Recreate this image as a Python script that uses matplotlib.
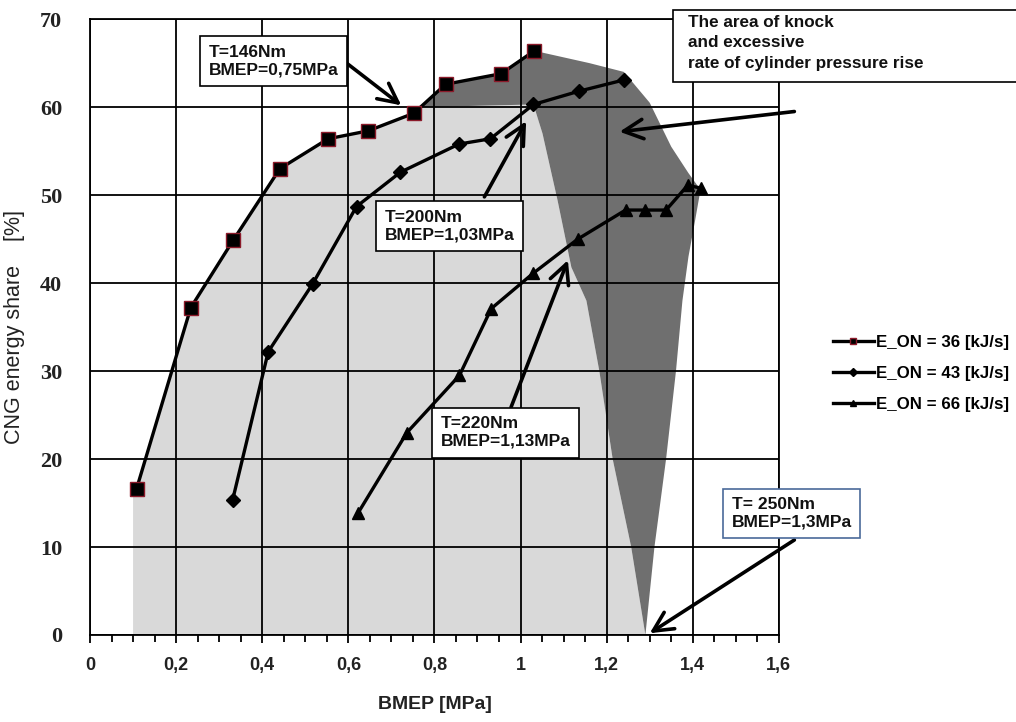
import matplotlib
matplotlib.use("Agg")
import matplotlib.pyplot as plt
from matplotlib.patches import Rectangle
from matplotlib.ticker import MultipleLocator

# measured points (BMEP [MPa], CNG share [%])
bmep_36 = [0.108, 0.234, 0.333, 0.441, 0.553, 0.646, 0.752, 0.826, 0.955, 1.032]
cng_36 = [16.6, 37.2, 44.9, 53.0, 56.4, 57.3, 59.3, 62.6, 63.8, 66.4]

bmep_43 = [0.331, 0.414, 0.517, 0.619, 0.721, 0.857, 0.930, 1.030, 1.135, 1.241]
cng_43 = [15.3, 32.2, 39.9, 48.7, 52.6, 55.8, 56.4, 60.3, 61.8, 63.1]

bmep_66 = [0.623, 0.736, 0.858, 0.932, 1.029, 1.133, 1.244, 1.288, 1.338, 1.388, 1.419]
cng_66 = [13.9, 23.0, 29.5, 37.1, 41.1, 45.0, 48.3, 48.3, 48.3, 51.1, 50.8]

labels = ["E_ON = 36 [kJ/s]", "E_ON = 43 [kJ/s]", "E_ON = 66 [kJ/s]"]

# outline of the safe (light) area and knock (dark) area
safe_x = [0.10, 0.10] + bmep_36[:7] + [0.77, 1.03, 1.051, 1.086, 1.118, 1.153, 1.183, 1.214, 1.257, 1.29]
safe_y = [0.0, 16.6] + cng_36[:7] + [60.0, 60.3, 57.0, 49.4, 41.8, 38.0, 30.0, 20.0, 10.0, 0.0]

knock_x = [0.77] + bmep_36[7:] + [1.16, 1.24, 1.30, 1.35, 1.39, 1.418, 1.405, 1.39, 1.376, 1.361, 1.338,
                                   1.311, 1.29, 1.257, 1.214, 1.183, 1.153, 1.118, 1.086, 1.051, 1.03]
knock_y = [60.0] + cng_36[7:] + [65.0, 64.0, 60.5, 55.5, 52.5, 50.6, 47.0, 43.0, 38.0, 30.0, 20.0,
                                 10.0, 0.0, 10.0, 20.0, 30.0, 38.0, 41.8, 49.4, 57.0, 60.3]

fig = plt.figure(figsize=(10.16, 7.22), dpi=100)
ax = fig.add_axes([0.0886, 0.1205, 0.678, 0.853])

ax.fill(safe_x, safe_y, color="#d9d9d9", lw=0, zorder=1)
ax.fill(knock_x, knock_y, color="#6f6f6f", lw=0, zorder=1)

ax.plot(bmep_36, cng_36, "-", color="black", lw=2.4, marker="s", ms=10,
        mfc="black", mec="#8b1a2a", mew=1, label=labels[0], zorder=4)
ax.plot(bmep_43, cng_43, "-", color="black", lw=2.4, marker="D", ms=7,
        mfc="black", mec="black", label=labels[1], zorder=4)
ax.plot(bmep_66, cng_66, "-", color="black", lw=2.4, marker="^", ms=9,
        mfc="black", mec="black", label=labels[2], zorder=4)

ax.set_xlim(0, 1.6)
ax.set_ylim(0, 70)
ax.xaxis.set_major_locator(MultipleLocator(0.2))
ax.xaxis.set_minor_locator(MultipleLocator(0.05))
ax.yaxis.set_major_locator(MultipleLocator(10))
ax.grid(True, which="major", color="black", lw=1.3, zorder=2)
ax.set_axisbelow(False)
for sp in ax.spines.values():
    sp.set_linewidth(1.3)
    sp.set_zorder(3)
ax.tick_params(axis="x", which="major", length=6, width=1.3, direction="out", pad=10)
ax.tick_params(axis="x", which="minor", length=5, width=1.3, direction="out")
ax.tick_params(axis="y", length=0, pad=20)

xt = [0, 0.2, 0.4, 0.6, 0.8, 1.0, 1.2, 1.4, 1.6]
ax.set_xticks(xt)
ax.set_xticklabels([("%g" % v).replace(".", ",") for v in xt],
                   fontfamily="Liberation Sans", fontweight="bold", fontsize=13, color="#222222")
for t in ax.get_yticklabels():
    t.set_fontfamily("Liberation Serif")
    t.set_fontweight("bold")
    t.set_fontsize(16)
    t.set_color("#222222")

ax.set_xlabel("BMEP [MPa]", fontfamily="Liberation Sans", fontweight="bold", fontsize=14,
              color="#222222", labelpad=16)
ax.set_ylabel("CNG energy share    [%]", fontfamily="Liberation Sans", fontsize=15.5,
              color="#222222", labelpad=11)

box = dict(boxstyle="square,pad=0.5", fc="white", ec="black", lw=1.2)
afont = dict(fontfamily="Liberation Sans", fontweight="bold", fontsize=12.5, color="#111111")
arr = dict(arrowstyle="->,head_length=1.0,head_width=0.5", color="black", lw=2.6,
           shrinkA=0, shrinkB=0, mutation_scale=14)

ax.annotate("", xy=(0.723, 60.2), xytext=(0.596, 65.0), arrowprops=arr, zorder=6)
ax.text(0.275, 65.2, "T=146Nm\nBMEP=0,75MPa", bbox=box, va="center", ha="left", zorder=7, **afont)

ax.annotate("", xy=(1.013, 58.4), xytext=(0.916, 49.8), arrowprops=arr, zorder=6)
ax.text(0.685, 46.5, "T=200Nm\nBMEP=1,03MPa", bbox=box, va="center", ha="left", zorder=7, **afont)

ax.annotate("", xy=(1.110, 42.6), xytext=(0.978, 25.9), arrowprops=arr, zorder=6)
ax.text(0.815, 23.0, "T=220Nm\nBMEP=1,13MPa", bbox=box, va="center", ha="left", zorder=7, **afont)

ax.annotate("", xy=(1.30, 0.2), xytext=(1.636, 10.8), arrowprops=arr, zorder=6,
            annotation_clip=False)
ax.text(1.49, 13.8, "T= 250Nm\nBMEP=1,3MPa",
        bbox=dict(boxstyle="square,pad=0.5", fc="white", ec="#4a6a9a", lw=1.2),
        va="center", ha="left", zorder=7, **afont)

ax.annotate("", xy=(1.23, 57.2), xytext=(1.636, 59.5), arrowprops=arr, zorder=6,
            annotation_clip=False)
fig.patches.append(Rectangle((673 / 1016, 1 - 82 / 722), 345 / 1016, 72 / 722,
                             transform=fig.transFigure, fc="white", ec="black", lw=1.2, zorder=7))
fig.text(688 / 1016, 1 - 15 / 722, "The area of knock\nand excessive\nrate of cylinder pressure rise",
         va="top", ha="left", fontfamily="Liberation Sans", fontweight="bold", fontsize=12.3,
         color="#111111", linespacing=1.45, zorder=8)

leg = fig.legend(loc="upper left", bbox_to_anchor=(0.805, 0.557), frameon=False,
                 handlelength=2.4, handletextpad=0.15, labelspacing=0.95,
                 prop=dict(family="Liberation Sans", weight="bold", size=12.2))
for h in leg.legend_handles:
    h.set_markersize(4)

fig.savefig("out.png", dpi=100)
